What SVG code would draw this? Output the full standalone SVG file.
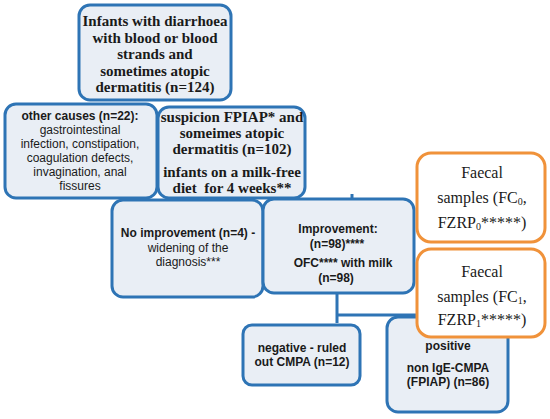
<svg xmlns="http://www.w3.org/2000/svg" width="550" height="419" viewBox="0 0 550 419">
<style>
.b{fill:#E9EEF5;stroke:#2E74B5;stroke-width:3}
.o{fill:#FFFFFF;stroke:#F0923A;stroke-width:3}
.c{fill:none;stroke:#2E74B5;stroke-width:3}
text{fill:#1a1a1a;text-anchor:middle}
.sb{font-family:"Liberation Serif",serif;font-weight:bold;font-size:15px}
.sr{font-family:"Liberation Serif",serif;font-size:16px}
.ab{font-family:"Liberation Sans",sans-serif;font-weight:bold;font-size:12px}
.ar{font-family:"Liberation Sans",sans-serif;font-size:12px}
.sub{font-size:10px}
</style>
<rect width="550" height="419" fill="#FFFFFF"/>
<g id="connectors">
<path class="c" d="M337 293 V323 M337 315 H420"/>
<path class="c" d="M352 194 V199"/>
</g>
<g id="n-infants">
<rect class="b" x="79" y="5" width="152" height="95" rx="11"/>
<text class="sb" x="155" y="26">Infants with diarrhoea</text>
<text class="sb" x="155" y="43">with blood or blood</text>
<text class="sb" x="155" y="59">strands and</text>
<text class="sb" x="155" y="76">sometimes atopic</text>
<text class="sb" x="155" y="92">dermatitis (n=124)</text>
</g>
<g id="n-other">
<rect class="b" x="5" y="104" width="152" height="94" rx="11"/>
<text class="ab" x="80" y="120">other causes (n=22):</text>
<text class="ar" x="80" y="134">gastrointestinal</text>
<text class="ar" x="80" y="148">infection, constipation,</text>
<text class="ar" x="80" y="162">coagulation defects,</text>
<text class="ar" x="80" y="176">invagination, anal</text>
<text class="ar" x="80" y="190">fissures</text>
</g>
<g id="n-suspicion">
<rect class="b" x="158" y="107" width="147" height="91" rx="11"/>
<text class="sb" x="232" y="122">suspicion FPIAP* and</text>
<text class="sb" x="232" y="138">someimes atopic</text>
<text class="sb" x="232" y="154">dermatitis (n=102)</text>
<text class="sb" x="232" y="177">infants on a milk-free</text>
<text class="sb" x="232" y="193" xml:space="preserve">diet  for 4 weeks**</text>
</g>
<g id="n-noimprovement">
<rect class="b" x="112" y="200" width="151" height="97" rx="11"/>
<text class="ab" x="188" y="237">No improvement (n=4) -</text>
<text class="ar" x="188" y="252">widening of the</text>
<text class="ar" x="188" y="266">diagnosis***</text>
</g>
<g id="n-improvement">
<rect class="b" x="263" y="199" width="151" height="94" rx="11"/>
<text class="ab" x="338" y="233">Improvement:</text>
<text class="ab" x="337" y="248">(n=98)****</text>
<text class="ab" x="343" y="267">OFC**** with milk</text>
<text class="ab" x="336" y="282">(n=98)</text>
</g>
<g id="n-negative">
<rect class="b" x="243" y="325" width="117" height="60" rx="9"/>
<text class="ab" x="302" y="352">negative - ruled</text>
<text class="ab" x="302" y="366">out CMPA (n=12)</text>
</g>
<g id="n-positive">
<rect class="b" x="387" y="317" width="121" height="95" rx="11"/>
<text class="ab" x="448" y="350">positive</text>
<text class="ab" x="448" y="372">non IgE-CMPA</text>
<text class="ab" x="448" y="386">(FPIAP) (n=86)</text>
</g>
<g id="n-faecal0">
<rect class="o" x="417" y="153" width="128" height="89" rx="14"/>
<text class="sr" x="482" y="178">Faecal</text>
<text class="sr" x="482" y="203">samples (FC<tspan class="sub" dy="2">0</tspan><tspan dy="-2">,</tspan></text>
<text class="sr" x="482" y="228">FZRP<tspan class="sub" dy="2">0</tspan><tspan dy="-2">*****)</tspan></text>
</g>
<g id="n-faecal1">
<rect class="o" x="417" y="249" width="128" height="88" rx="14"/>
<text class="sr" x="482" y="277">Faecal</text>
<text class="sr" x="482" y="302">samples (FC<tspan class="sub" dy="2">1</tspan><tspan dy="-2">,</tspan></text>
<text class="sr" x="482" y="325">FZRP<tspan class="sub" dy="2">1</tspan><tspan dy="-2">*****)</tspan></text>
</g>
</svg>
